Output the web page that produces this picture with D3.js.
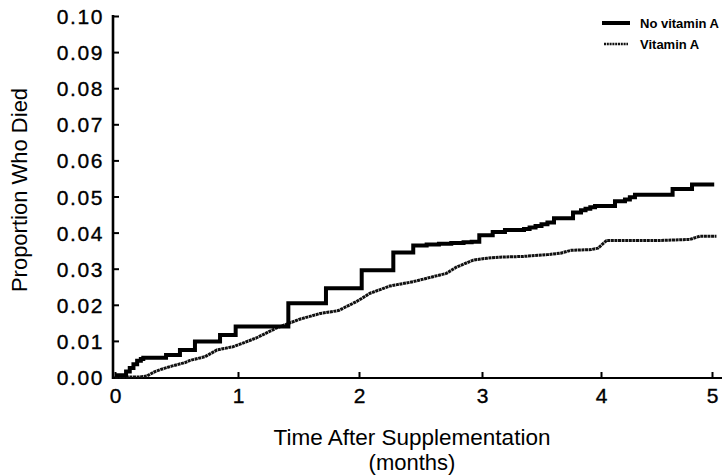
<!DOCTYPE html>
<html>
<head>
<meta charset="utf-8">
<script src="https://cdn.jsdelivr.net/npm/d3@7"></script>
<style>
  html, body { margin: 0; padding: 0; background: #fff; }
  svg { display: block; }
  text { font-family: "Liberation Sans", Arial, Helvetica, sans-serif; fill: #000; }
</style>
</head>
<body>
<svg id="chart" width="728" height="476"></svg>
<script>
// ---- Data ----
const seriesNames = ["No vitamin A", "Vitamin A"];

const noVitT = [0, 0.09, 0.12, 0.15, 0.18, 0.21, 0.23, 0.415, 0.528, 0.65, 0.854, 0.981,
  1.416, 1.727, 2.022, 2.279, 2.441, 2.55, 2.65, 2.75, 2.85, 2.916, 2.978, 3.09, 3.193,
  3.353, 3.40, 3.45, 3.50, 3.55, 3.605, 3.765, 3.832, 3.87, 3.91, 3.95, 4.126, 4.216,
  4.26, 4.306, 4.645, 4.82, 5.02];
const noVitP = [0.0005, 0.0015, 0.0025, 0.0035, 0.0045, 0.005, 0.0053, 0.0061, 0.0075,
  0.0098, 0.0116, 0.014, 0.0204, 0.0246, 0.0296, 0.0345, 0.0364, 0.0367, 0.0369, 0.0371,
  0.0373, 0.0375, 0.0393, 0.0402, 0.0407, 0.041, 0.0414, 0.0418, 0.0423, 0.0428, 0.044,
  0.0456, 0.0462, 0.0466, 0.047, 0.0474, 0.0487, 0.0492, 0.0498, 0.0505, 0.0521, 0.0533,
  0.0533];

const vitT = [0, 0.2, 0.26, 0.325, 0.40, 0.46, 0.57, 0.61, 0.73, 0.83, 0.96, 1.04, 1.15,
  1.32, 1.51, 1.68, 1.83, 1.98, 2.09, 2.25, 2.44, 2.58, 2.71, 2.79, 2.93, 3.04, 3.15, 3.35,
  3.55, 3.66, 3.75, 3.92, 3.975, 4.05, 4.28, 4.52, 4.80, 4.89, 5.04];
const vitP = [0, 0, 0.0003, 0.0015, 0.0024, 0.003, 0.004, 0.0046, 0.0056, 0.0075, 0.0084,
  0.0094, 0.0108, 0.0136, 0.016, 0.0176, 0.0184, 0.0209, 0.0232, 0.0252, 0.0264, 0.0276,
  0.0287, 0.0304, 0.0324, 0.0329, 0.0332, 0.0334, 0.0339, 0.0343, 0.0351, 0.0353, 0.0357,
  0.0378, 0.0378, 0.0378, 0.0381, 0.039, 0.039];

const xTicks = [0, 1, 2, 3, 4, 5];
const yTicks = [0, 0.01, 0.02, 0.03, 0.04, 0.05, 0.06, 0.07, 0.08, 0.09, 0.10];
const xTitle = "Time After Supplementation";
const xSubTitle = "(months)";
const yTitle = "Proportion Who Died";

// ---- Layout ----
const svg = d3.select("#chart");
const axisX0 = 113, axisX1 = 722, axisY0 = 378;

// the scanned axis is slightly uneven; follow its tick positions
const x = d3.scaleLinear().domain(xTicks).range([115, 238, 359, 482, 601, 712]);
const y = d3.scaleLinear().domain([0, 0.10]).range([377, 16]);

// ---- Axes ----
const yAxis = d3.axisLeft(y).tickValues(yTicks).tickFormat(d3.format(".2f"))
  .tickSizeInner(-6).tickSizeOuter(0).tickPadding(9);
const gy = svg.append("g").attr("transform", `translate(${axisX0},0)`).call(yAxis);
gy.select(".domain").remove();
gy.selectAll(".tick line").attr("stroke", "#000").attr("stroke-width", 2);
gy.selectAll(".tick text").attr("font-size", 21).attr("letter-spacing", "1.6px")
  .attr("font-family", "'Liberation Sans', Arial, sans-serif").attr("dy", "0.36em")
  .attr("stroke", "#000").attr("stroke-width", 0.35);

const xAxis = d3.axisBottom(x).tickValues(xTicks).tickFormat(d3.format("d"))
  .tickSizeInner(-6).tickSizeOuter(0).tickPadding(10);
const gx = svg.append("g").attr("transform", `translate(0,${axisY0})`).call(xAxis);
gx.select(".domain").remove();
gx.selectAll(".tick line").attr("stroke", "#000").attr("stroke-width", 2);
gx.selectAll(".tick text").attr("font-size", 21)
  .attr("font-family", "'Liberation Sans', Arial, sans-serif")
  .attr("stroke", "#000").attr("stroke-width", 0.35);

// axis lines
svg.append("line").attr("x1", axisX0).attr("x2", axisX0)
  .attr("y1", y(0.10) - 1).attr("y2", axisY0 + 1)
  .attr("stroke", "#000").attr("stroke-width", 2.6);
svg.append("line").attr("x1", axisX0 - 1).attr("x2", axisX1)
  .attr("y1", axisY0).attr("y2", axisY0)
  .attr("stroke", "#000").attr("stroke-width", 2.2);

// titles
svg.append("text").attr("x", 412).attr("y", 445).attr("text-anchor", "middle")
  .attr("font-size", 22.5).text(xTitle);
svg.append("text").attr("x", 412).attr("y", 470).attr("text-anchor", "middle")
  .attr("font-size", 22).text(xSubTitle);
svg.append("text").attr("transform", "translate(27,190) rotate(-90)")
  .attr("text-anchor", "middle").attr("font-size", 22).text(yTitle);

// ---- Curves ----
const noVit = noVitT.map((t, i) => [t, noVitP[i]]);
const vit = vitT.map((t, i) => [t, vitP[i]]);

const stepLine = d3.line().x(d => x(d[0])).y(d => y(d[1])).curve(d3.curveStepAfter);
const smoothLine = d3.line().x(d => x(d[0])).y(d => y(d[1])).curve(d3.curveLinear);

svg.append("path").datum(vit).attr("d", smoothLine)
  .attr("fill", "none").attr("stroke", "#111").attr("stroke-width", 3)
  .attr("stroke-dasharray", "3,0.6").attr("stroke-linejoin", "round");

svg.append("path").datum(noVit).attr("d", stepLine)
  .attr("fill", "none").attr("stroke", "#000").attr("stroke-width", 4)
  .attr("stroke-linejoin", "miter");

// ---- Legend ----
const leg = svg.append("g");
leg.append("line").attr("x1", 602).attr("x2", 630).attr("y1", 23).attr("y2", 23)
  .attr("stroke", "#000").attr("stroke-width", 4);
leg.append("text").attr("x", 640).attr("y", 27.5).attr("font-size", 13)
  .attr("font-weight", "bold").text(seriesNames[0]);
leg.append("line").attr("x1", 604).attr("x2", 628).attr("y1", 44).attr("y2", 44)
  .attr("stroke", "#111").attr("stroke-width", 2.6).attr("stroke-dasharray", "2,0.8");
leg.append("text").attr("x", 640).attr("y", 48.5).attr("font-size", 13)
  .attr("font-weight", "bold").text(seriesNames[1]);
</script>
</body>
</html>
